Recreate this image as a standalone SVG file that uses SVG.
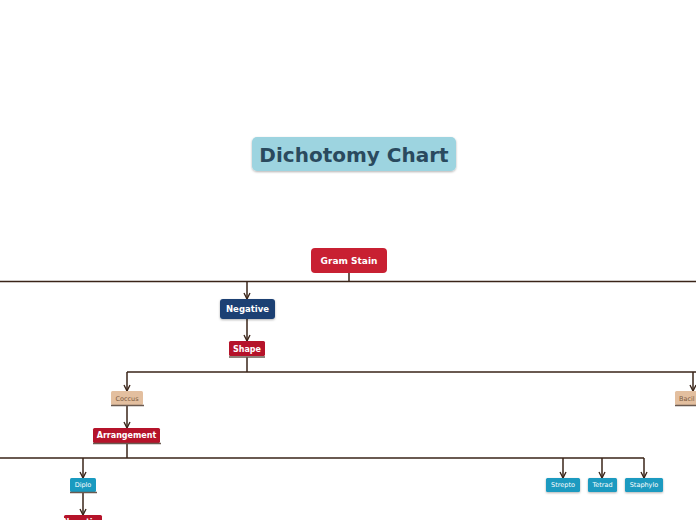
<svg xmlns="http://www.w3.org/2000/svg" width="696" height="520" viewBox="0 0 696 520">
<defs>
<marker id="ah" viewBox="0 0 10 10" refX="9" refY="5" markerWidth="5" markerHeight="5" orient="auto"><path d="M1,1 L9,5 L1,9" fill="none" stroke="#3a2418" stroke-width="1.8"/></marker>
<filter id="sh" x="-10%" y="-10%" width="120%" height="140%"><feDropShadow dx="0" dy="1" stdDeviation="0.8" flood-color="#000" flood-opacity="0.3"/></filter>
</defs>
<style>
text{font-family:"DejaVu Sans",sans-serif;text-anchor:middle;dominant-baseline:central}
.c{fill:none;stroke:#3a2418;stroke-width:1.5}
.a{marker-end:url(#ah)}
.red{fill:#c82032}
.dred{fill:#b5132a}
.ul{stroke:#6a5a50;stroke-width:1.5}
.w{fill:#fff;font-weight:bold}
.cy{fill:#1a9ac0}
</style>
<rect width="696" height="520" fill="#fff"/>
<g id="connectors">
<path class="c" d="M349,273 V281.5 M0,281.5 H696"/>
<path class="c a" d="M247,281.5 V299"/>
<path class="c a" d="M247,319 V341"/>
<path class="c" d="M247,357 V372 M127,372 H696"/>
<path class="c a" d="M127,372 V391"/>
<path class="c a" d="M693,372 V391"/>
<path class="c a" d="M127,405 V428"/>
<path class="c" d="M127,443 V458 M0,458 H644"/>
<path class="c a" d="M83,458 V478"/>
<path class="c a" d="M563,458 V478"/>
<path class="c a" d="M602,458 V478"/>
<path class="c a" d="M644,458 V478"/>
<path class="c a" d="M83,492 V515"/>
</g>
<g id="title"><rect x="252" y="137" width="204" height="34" rx="5" fill="#9dd4e0" filter="url(#sh)"/><text x="354" y="155" font-size="20" font-weight="bold" fill="#2a4a5e">Dichotomy Chart</text></g>
<g id="gram"><rect x="311" y="248" width="76" height="25" rx="4" class="red"/><text x="349" y="261" font-size="9" class="w">Gram Stain</text></g>
<g id="negative"><rect x="220" y="299" width="55" height="20" rx="3" fill="#1a3f73" filter="url(#sh)"/><text x="247.5" y="309" font-size="8.5" class="w">Negative</text></g>
<g id="shape"><rect x="229" y="341" width="36" height="15" rx="1.5" class="dred"/><line x1="229" y1="357" x2="265" y2="357" class="ul"/><text x="247" y="349" font-size="8" class="w">Shape</text></g>
<g id="coccus"><rect x="111" y="391" width="32" height="14" rx="1.5" fill="#e3bf9f"/><line x1="111" y1="405.5" x2="144" y2="405.5" class="ul"/><text x="127" y="398.5" font-size="6.5" fill="#7a5a40">Coccus</text></g>
<g id="bacil"><rect x="675" y="391" width="40" height="14" rx="1.5" fill="#e3bf9f"/><line x1="675" y1="405.5" x2="715" y2="405.5" class="ul"/><text x="679" y="398.5" font-size="6.5" fill="#7a5a40" style="text-anchor:start">Bacil</text></g>
<g id="arrangement"><rect x="93" y="428" width="67" height="15" rx="1.5" class="dred"/><line x1="93" y1="443.5" x2="161" y2="443.5" class="ul"/><text x="126.5" y="435.5" font-size="8" class="w">Arrangement</text></g>
<g id="diplo"><rect x="70" y="478" width="26" height="14" rx="1.5" class="cy"/><line x1="70" y1="492.5" x2="97" y2="492.5" class="ul"/><text x="83" y="485" font-size="6.5" fill="#fff">Diplo</text></g>
<g id="strepto"><rect x="546" y="478" width="34" height="14" rx="1.5" class="cy" filter="url(#sh)"/><text x="563" y="485" font-size="6.5" fill="#fff">Strepto</text></g>
<g id="tetrad"><rect x="588" y="478" width="29" height="14" rx="1.5" class="cy" filter="url(#sh)"/><text x="602.5" y="485" font-size="6.5" fill="#fff">Tetrad</text></g>
<g id="staphylo"><rect x="625" y="478" width="38" height="14" rx="1.5" class="cy" filter="url(#sh)"/><text x="644" y="485" font-size="6.5" fill="#fff">Staphylo</text></g>
<g id="bottom"><rect x="64" y="515" width="38" height="15" rx="1.5" class="dred"/><text x="83" y="522.5" font-size="8" class="w">Negative</text></g>
</svg>
